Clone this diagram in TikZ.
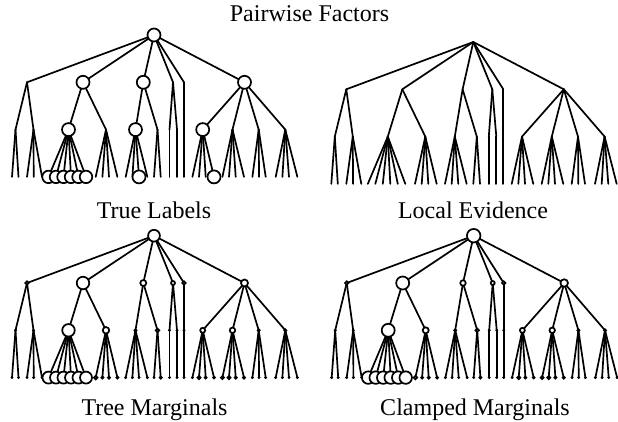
\documentclass[tikz,border=0pt]{standalone}
\usepackage{fontspec}
\setmainfont{Liberation Serif}
\usetikzlibrary{backgrounds}
\tikzset{
  tree-edge/.style={line width=1.7pt, line cap=round, line join=round},
  tree-node/.style={circle, draw=black, fill=white, line width=1.7pt, inner sep=0pt},
  tree-joint/.style={circle, inner sep=0pt, minimum size=0pt},
  panel-title/.style={anchor=base, inner sep=0pt, font=\fontsize{24}{28}\selectfont}
}
% node/parent/x offset from the root/level
\newcommand{\treenodes}{%
  root/root/0/0,
  a/root/-127/1, b/root/-71/1, c/root/-10.7/1, d/root/19/1, e/root/30/1, f/root/90.5/1,
  a1/a/-138.5/2, a2/a/-120.5/2, b1/b/-85.5/2, b2/b/-48/2, c1/c/-18.5/2, c2/c/3.5/2,
  d1/d/15.5/2, d2/d/23/2, e1/e/30/2, f1/f/48.7/2, f2/f/78.5/2, f3/f/104.7/2, f4/f/131.3/2,
  a1-1/a1/-142/3, a1-2/a1/-135.5/3,
  a2-1/a2/-127/3, a2-2/a2/-120.3/3, a2-3/a2/-112/3,
  b1-1/b1/-105.5/3, b1-2/b1/-98/3, b1-3/b1/-90.5/3, b1-4/b1/-83/3, b1-5/b1/-75.5/3, b1-6/b1/-68/3,
  b2-1/b2/-58.3/3, b2-2/b2/-51.6/3, b2-3/b2/-45/3, b2-4/b2/-36.6/3,
  c1-1/c1/-28.3/3, c1-2/c1/-21.6/3, c1-3/c1/-15/3, c1-4/c1/-6.6/3,
  c2-1/c2/0/3, c2-2/c2/6.7/3,
  d1-1/d1/15.5/3, d2-1/d2/23/3, e1-1/e1/30/3,
  f1-1/f1/38.4/3, f1-2/f1/45/3, f1-3/f1/51.7/3, f1-4/f1/60/3,
  f2-1/f2/68.4/3, f2-2/f2/75/3, f2-3/f2/81.7/3, f2-4/f2/90/3,
  f3-1/f3/98.4/3, f3-2/f3/105/3, f3-3/f3/111.7/3,
  f4-1/f4/121.7/3, f4-2/f4/128.4/3, f4-3/f4/135/3, f4-4/f4/143.4/3%
}
% circle sizes of one panel: \setsizes{panel}{node/size, ...}
\newcommand{\setsizes}[2]{%
  \foreach \n/\sz in {#2} {\expandafter\xdef\csname size-#1-\n\endcsname{\sz}}%
}
% one tree: \drawtree{panel}{root x}{root y}{size of the nodes not listed}
\newcommand{\drawtree}[4]{%
  \foreach \n/\p/\dx/\lv in \treenodes {
    \ifcsname size-#1-\n\endcsname
      \edef\nodesize{\csname size-#1-\n\endcsname}%
    \else
      \edef\nodesize{#4}%
    \fi
    \ifdim\nodesize pt>0pt
      \node[tree-node, minimum size=\nodesize pt] (#1-\n) at ({#2+\dx},{#3-\lv*47.3}) {};
    \else
      \node[tree-joint] (#1-\n) at ({#2+\dx},{#3-\lv*47.3}) {};
    \fi
  }
  \begin{pgfonlayer}{background}
    \foreach \n/\p/\dx/\lv in \treenodes {
      \ifnum\lv>0 \draw[tree-edge] (#1-\p.center) -- (#1-\n.center);\fi
    }
  \end{pgfonlayer}
}

\begin{document}
\begin{tikzpicture}[x=1pt, y=1pt]
  \useasboundingbox (0,0) rectangle (618,421);

  % 1. Circle sizes (nodes left out get the panel default)
  \setsizes{tl}{root/13, b/13, c/13, f/13, b1/13, c1/13, f1/13,
    b1-1/12.5, b1-2/12.5, b1-3/12.5, b1-4/12.5, b1-5/12.5, b1-6/12.5, c1-3/13, f1-4/13}
  \setsizes{tm}{root/11.8, a/3.5, b/12.5, c/6, d/4, e/3.5, f/7, b1/12.5, b2/6.5,
    c1/2, c2/3.5, f1/5, f2/5.5, f3/2, f4/2,
    b1-1/12, b1-2/12, b1-3/12, b1-4/12, b1-5/12, b1-6/12,
    b2-1/3.5, b2-2/2, b2-3/2, b2-4/2, c2-2/2, f1-2/3, f1-3/1.8, f1-4/1.8,
    f2-1/3, f2-2/3, f2-3/2, f2-4/2}
  \setsizes{cm}{root/13.5, a/3.5, b/13, c/5.5, d/4, e/3.5, f/7.5, b1/13, b2/6,
    c1/2, c2/3.5, f1/5, f2/5.5, f3/2, f4/2,
    b1-1/12.5, b1-2/12.5, b1-3/12.5, b1-4/12.5, b1-5/12.5, b1-6/12.5,
    b2-1/3.5, b2-2/2, b2-3/2, b2-4/2, c2-2/2, f1-2/3, f1-3/1.8, f1-4/1.8,
    f2-1/3, f2-2/3, f2-3/2, f2-4/2}

  % 2. The four trees
  \drawtree{tl}{154}{386}{0}
  \drawtree{le}{473.3}{379}{0}
  \drawtree{tm}{154}{185.3}{0.8}
  \drawtree{cm}{473.7}{185.3}{0.8}

  % 3. Titles
  \node[panel-title] (title) at (309.5,399) {Pairwise Factors};
  \node[panel-title] (tl-title) at (154,203) {True Labels};
  \node[panel-title] (le-title) at (473,203) {Local Evidence};
  \node[panel-title] (tm-title) at (154.5,6) {Tree Marginals};
  \node[panel-title] (cm-title) at (475,6) {Clamped Marginals};
\end{tikzpicture}
\end{document}
